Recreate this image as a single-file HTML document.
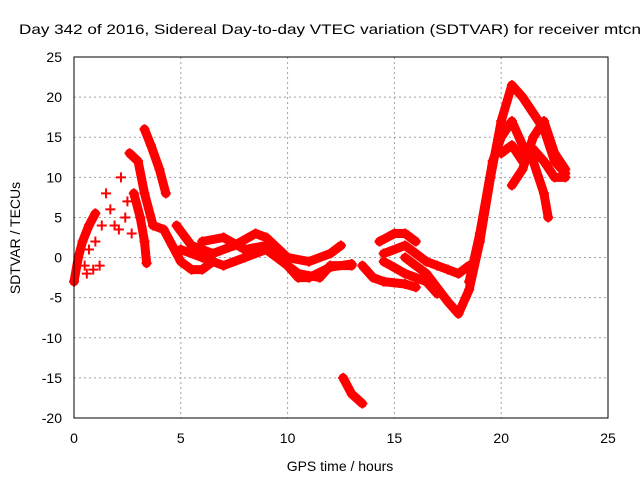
<!DOCTYPE html>
<html><head><meta charset="utf-8"><style>
body{margin:0;background:#fff}
svg text{font-family:"Liberation Sans",sans-serif;font-size:14px;fill:#000}
</style></head><body>
<svg width="640" height="480" id="c">
<text x="19" y="34" textLength="622" lengthAdjust="spacingAndGlyphs" style="font-size:14px">Day 342 of 2016, Sidereal Day-to-day VTEC variation (SDTVAR) for receiver mtcn</text>
<text x="340" y="471" text-anchor="middle">GPS time / hours</text>
<text transform="translate(20,238) rotate(-90)" text-anchor="middle">SDTVAR / TECUs</text>
<g id="grid"></g><g id="marks"></g>
<rect x="74" y="57" width="534" height="361" fill="none" stroke="#000"/>
</svg>
<script>
const xTicks=[0,5,10,15,20,25];
const yTicks=[-20,-15,-10,-5,0,5,10,15,20,25];
const trackA=[[0,-3],[0.2,0],[0.4,2],[0.7,4],[1,5.5]];
const trackB=[[2.6,13],[3.0,12],[3.3,8],[3.7,4],[4.2,3.5],[4.6,1.5],[5,-0.5],[5.5,-1.5],[6,-1.5],[6.5,-0.5]];
const trackC=[[3.3,16],[3.6,14],[4,11],[4.3,8]];
const trackD=[[2.8,8],[3.1,5],[3.3,2],[3.4,-0.7]];
const trackE=[[4.8,4],[5.5,1.5],[6.5,0.5],[7.5,1.5],[8.5,3],[9,2.5],[10,0],[11,-0.5],[12,0.5],[12.5,1.5]];
const trackF=[[5,1],[6,0],[7,-1],[8,0],[9,1],[9.5,0],[10.5,-2],[11.5,-2.5],[12,-1],[13,-1]];
const trackG=[[6,2],[7,2.5],[8,1],[9,1.5],[10,-1],[10.5,-2.5],[11,-2.5],[12,-1.2],[13,-0.8]];
const trackS=[[12.6,-15],[13,-17],[13.5,-18.2]];
const trackP=[[13.5,-1],[14,-2.5],[14.5,-3],[15.5,-3.3],[16,-3.7]];
const trackH=[[14.3,2],[15,3],[15.5,3],[16,2]];
const trackI=[[14.5,0.5],[15.5,1.5],[16.5,-0.5],[17,-1],[17.5,-1.5],[18,-2],[18.5,-1]];
const trackJ=[[14.5,-0.5],[15.5,-2],[16.5,-3],[17,-4.5]];
const trackK=[[15.5,0],[16.5,-2],[17.5,-5.5],[18,-7],[18.5,-4],[19,2],[19.5,10],[20,17],[20.5,21.5],[21,20],[21.5,18],[22,16],[22.5,12],[23,10.5]];
const trackL=[[18.5,-3],[19,3],[19.6,12],[20,15],[20.5,17],[21,14],[21.5,12],[22,8],[22.2,5]];
const trackM=[[20,13],[20.5,14],[21,12],[21.5,13.5],[22,12],[22.5,10],[23,10]];
const trackN=[[20.5,9],[21,11],[21.5,15],[22,17],[22.5,13],[23,11]];
const scatter=[[0.5,-1],[0.7,1],[0.9,-1.5],[1.2,-1],[1.3,4],[1.5,8],[1.7,6],[1.9,4],[2.2,10],[2.4,5],[2.5,7],[2.1,3.5],[2.7,3],[1,2],[0.6,-2]];
const tracks=[trackA,trackB,trackC,trackD,trackE,trackF,trackG,trackS,trackP,trackH,trackI,trackJ,trackK,trackL,trackM,trackN];
const X=t=>74+t*534/25, Y=v=>57+(25-v)*361/45;
const ns="http://www.w3.org/2000/svg",svg=document.getElementById('c');
const g=document.getElementById('grid'),m=document.getElementById('marks');
function el(n,a,p){const e=document.createElementNS(ns,n);for(const k in a)e.setAttribute(k,a[k]);p.appendChild(e);return e;}
xTicks.forEach(t=>{
 if(t>0&&t<25){const l=el('line',{x1:X(t),x2:X(t),y1:57,y2:418,stroke:'#a0a0a0','stroke-dasharray':'2,3'},g);
 
 }
 const tx=el('text',{x:X(t),y:443,'text-anchor':'middle'},svg);tx.textContent=t;
 
 
});
yTicks.forEach(v=>{
 if(v>-20&&v<25){const l=el('line',{x1:74,x2:608,y1:Y(v),y2:Y(v),stroke:'#a0a0a0','stroke-dasharray':'2,3'},g);
 
 }
 const tx=el('text',{x:62,y:Y(v)+5,'text-anchor':'end'},svg);tx.textContent=v;
 
 
});
function plus(t,v){const p=el('path',{d:`M${X(t)-5},${Y(v)}h10M${X(t)},${Y(v)-5}v10`,stroke:'#f00','stroke-width':2},m);
 
 }
tracks.forEach(tr=>{
 const pl=el('polyline',{points:tr.map(p=>X(p[0])+','+Y(p[1])).join(' '),fill:'none',stroke:'#f00','stroke-width':9,'stroke-linejoin':'round','stroke-linecap':'round'},m);
 
 
 tr.forEach(p=>plus(p[0],p[1]));
});
scatter.forEach(p=>plus(p[0],p[1]));
</script>
</body></html>
